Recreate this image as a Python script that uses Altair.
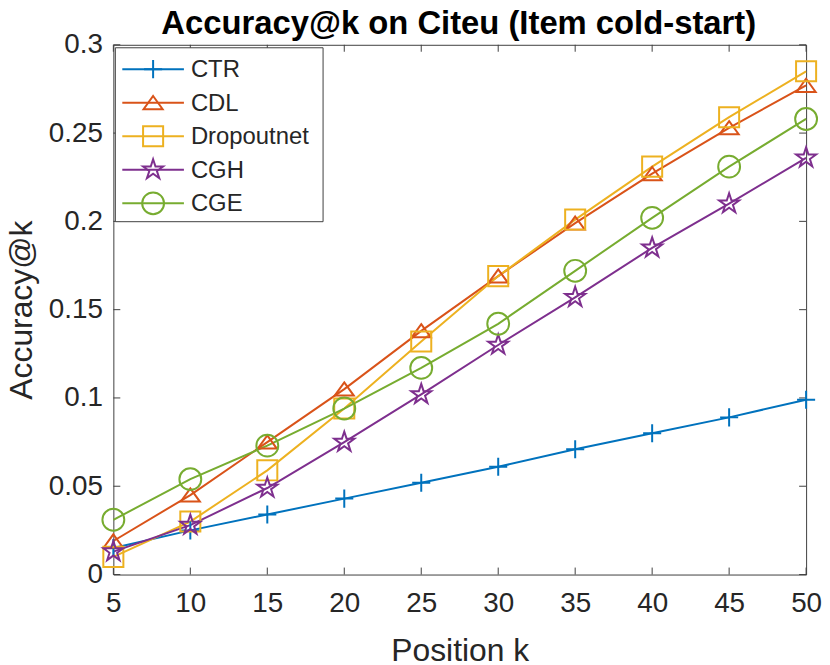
import altair as alt
import pandas as pd

# ---- data ----
k = [5, 10, 15, 20, 25, 30, 35, 40, 45, 50]
series = ["CTR", "CDL", "Dropoutnet", "CGH", "CGE"]
ctr = [0.015, 0.025, 0.034, 0.043, 0.052, 0.061, 0.071, 0.080, 0.089, 0.099]
cdl = [0.019, 0.045, 0.075, 0.105, 0.138, 0.169, 0.199, 0.227, 0.253, 0.277]
dropoutnet = [0.010, 0.030, 0.059, 0.094, 0.132, 0.169, 0.201, 0.231, 0.259, 0.285]
cgh = [0.013, 0.028, 0.049, 0.075, 0.102, 0.130, 0.157, 0.185, 0.210, 0.236]
cge = [0.031, 0.054, 0.073, 0.094, 0.117, 0.142, 0.172, 0.202, 0.231, 0.258]
x_ticks = [5, 10, 15, 20, 25, 30, 35, 40, 45, 50]
y_ticks = [0, 0.05, 0.1, 0.15, 0.2, 0.25, 0.3]
title_text = ["Accuracy@k on Citeu (Item cold-start)"]

colors = ["#0072BD", "#D95319", "#EDB120", "#7E2F8E", "#77AC30"]
PLUS = "M-1,0L1,0M0,-1L0,1"
TRI = "M0,-0.7L1,0.68L-1,0.68Z"
STAR = ("M0,-1L0.225,-0.309L0.951,-0.309L0.363,0.118L0.588,0.809L0,0.382"
        "L-0.588,0.809L-0.363,0.118L-0.951,-0.309L-0.225,-0.309Z")
shapes = [PLUS, TRI, "square", STAR, "circle"]
sizes = [330, 484, 225, 441, 324]

values = [ctr, cdl, dropoutnet, cgh, cge]
rows = []
for si, (name, vals) in enumerate(zip(series, values)):
    for kk, v in zip(k, vals):
        rows.append({"k": kk, "acc": v, "series": name, "order": si})
df = pd.DataFrame(rows)

W, H = 697, 533
FONT = "Liberation Sans"
AX = "#404040"
TXT = "#262626"

color_enc = alt.Color("series:N", scale=alt.Scale(domain=series, range=colors), legend=None)
shape_enc = alt.Shape("series:N", scale=alt.Scale(domain=series, range=shapes), legend=None)
size_enc = alt.Size("series:N", scale=alt.Scale(domain=series, range=sizes), legend=None)

x_enc = alt.X("k:Q", scale=alt.Scale(domain=[5, 50], nice=False, zero=False),
              axis=alt.Axis(values=x_ticks, title="Position k", titleX=W / 2,
                            titleY=86, titleBaseline="alphabetic", labelPadding=15))
y_enc = alt.Y("acc:Q", scale=alt.Scale(domain=[0, 0.3], nice=False),
              axis=alt.Axis(values=y_ticks, title="Accuracy@k", titleX=-82, titleY=H / 2,
                            titleBaseline="alphabetic", labelPadding=11,
                            labelExpr="datum.value == 0 ? '0' : format(datum.value, '~g')"))

base = alt.Chart(df)
lines = base.mark_line(strokeWidth=2).encode(
    x=x_enc, y=y_enc, color=color_enc, detail="series:N", order="order:Q")
points = base.mark_point(filled=False, strokeWidth=2, opacity=1).encode(
    x="k:Q", y="acc:Q", color=color_enc, shape=shape_enc, size=size_enc)

xt = alt.Chart(pd.DataFrame({"k": x_ticks}))
yt = alt.Chart(pd.DataFrame({"acc": y_ticks}))
tick_b = xt.mark_rule(color=AX, strokeWidth=1).encode(x="k:Q", y=alt.value(H), y2=alt.value(H - 7))
tick_t = xt.mark_rule(color=AX, strokeWidth=1).encode(x="k:Q", y=alt.value(0), y2=alt.value(7))
tick_l = yt.mark_rule(color=AX, strokeWidth=1).encode(y="acc:Q", x=alt.value(0), x2=alt.value(7))
tick_r = yt.mark_rule(color=AX, strokeWidth=1).encode(y="acc:Q", x=alt.value(W), x2=alt.value(W - 7))

main = alt.layer(lines, tick_b, tick_t, tick_l, tick_r, points)

# ---- legend box ----
leg_df = pd.DataFrame({"series": series})
def leg_y():
    return alt.Y("series:N", scale=alt.Scale(type="point", domain=series,
                                             range=[24.5, 159.5], padding=0), axis=None)
leg_box = alt.Chart(pd.DataFrame({"a": [0]})).mark_rect(
    fill="white", stroke=AX, strokeWidth=1).encode(
    x=alt.value(2), x2=alt.value(211), y=alt.value(3), y2=alt.value(178))
leg = alt.Chart(leg_df)
leg_lines = leg.mark_rule(strokeWidth=2).encode(
    y=leg_y(), x=alt.value(9), x2=alt.value(71), color=color_enc)
leg_pts = leg.mark_point(filled=False, strokeWidth=2, opacity=1).encode(
    y=leg_y(), x=alt.value(40), color=color_enc, shape=shape_enc, size=size_enc)
leg_txt = leg.mark_text(align="left", baseline="middle", fontSize=24, font=FONT,
                        color=TXT, dy=1).encode(
    y=leg_y(), x=alt.value(78), text="series:N")

# ---- chart title (as a text mark above the plot) ----
title = alt.Chart(pd.DataFrame({"t": title_text})).mark_text(
    align="center", baseline="alphabetic", fontSize=33, fontWeight="bold",
    font=FONT, color="black").encode(
    text="t:N", x=alt.value(W / 2 - 1), y=alt.value(-11))

legend = alt.layer(leg_box, leg_lines, leg_pts, leg_txt, title)

chart = alt.layer(main, legend).resolve_scale(y="independent").properties(
    width=W, height=H,
    autosize=alt.AutoSizeParams(type="none"),
    padding={"left": 106, "top": 35, "right": 16, "bottom": 88},
    background="white",
).configure_view(stroke=AX, strokeWidth=1).configure_axis(
    domain=False, ticks=False, grid=False, labelFont=FONT, labelFontSize=28,
    labelColor=TXT, titleFont=FONT, titleFontSize=32, titleFontWeight="normal",
    titleColor=TXT, labelFlush=False, labelOverlap=False)

chart.save("out.html", embed_options={"renderer": "svg", "actions": False})
